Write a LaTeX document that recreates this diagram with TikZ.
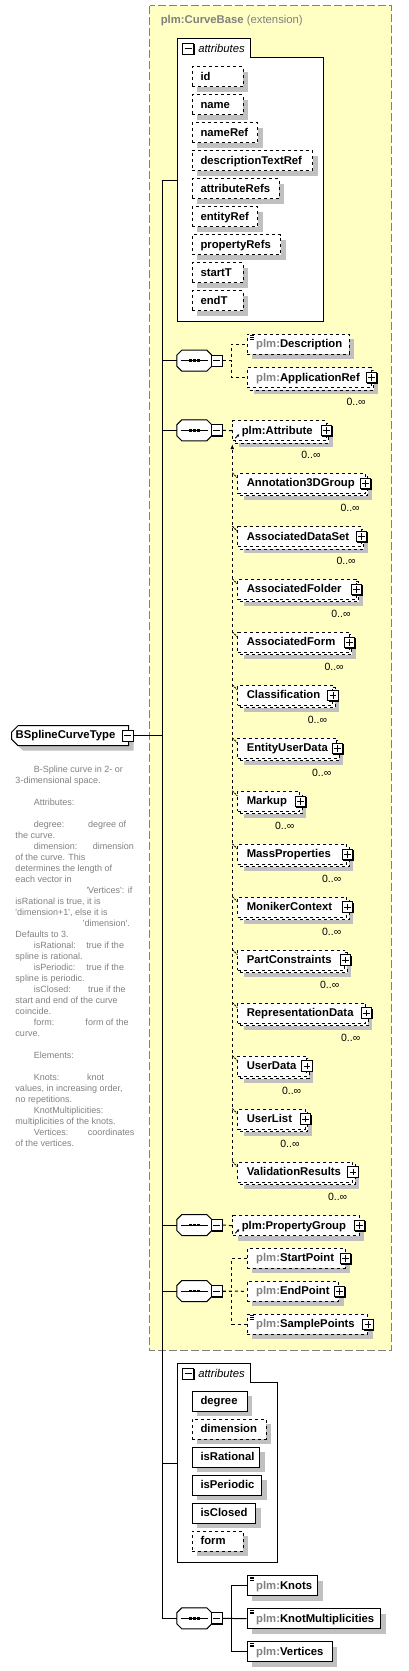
\documentclass[tikz,border=0pt]{standalone}
\usepackage{fontspec}
\setmainfont{Liberation Sans}
\usetikzlibrary{shapes.misc,shadows,arrows.meta,positioning}
\definecolor{extfill}{HTML}{FFFFC4}
\definecolor{shade}{HTML}{C0C0C0}
\definecolor{pfx}{HTML}{808080}
\newcommand{\pl}{\textcolor{pfx}{plm:}}
\newcommand{\q}{\textquotesingle}
\newcommand{\octpath}[1]{([xshift=5pt]#1.north west) -- ([xshift=-5pt]#1.north east) -- ([yshift=-5pt]#1.north east) -- ([yshift=5pt]#1.south east) -- ([xshift=-5pt]#1.south east) -- ([xshift=5pt]#1.south west) -- ([yshift=5pt]#1.south west) -- ([yshift=-5pt]#1.north west) -- cycle}
\begin{document}
\begin{tikzpicture}[x=1pt, y=-1pt, line width=1pt, >=stealth,
  lbl/.style={font=\fontsize{11.3}{13}\selectfont\bfseries},
  box/.style={draw, fill=white, anchor=west, minimum height=20pt, inner xsep=8.3pt,
    inner ysep=0pt, text height=9pt, text depth=2pt, align=left, text width=#1pt, lbl},
  shd/.style={drop shadow={shadow xshift=5pt, shadow yshift=-5pt, fill=shade, opacity=1}},
  attr/.style={box=#1, shd},
  opt/.style={box=#1, shd, dashed},
  elem/.style={box=#1, inner xsep=9pt, shd},
  many/.style={box=#1, inner xsep=9pt, dashed,
    drop shadow={shadow xshift=6.5pt, shadow yshift=-6.5pt, fill=shade, opacity=1},
    general shadow={shadow xshift=2.5pt, shadow yshift=-2.5pt, draw=black, fill=white, dashed},
    label={[occ]south east:0..∞}, label={[plus]east:{}}},
  pls/.style={label={[plus]east:{}}},
  occ/.style={anchor=base east, xshift=-5.5pt, yshift=-17.5pt, inner sep=0pt,
    font=\fontsize{10.5}{12}\selectfont},
  sym/.style={anchor=center, draw, solid, fill=white, inner sep=0pt,
    drop shadow={shadow xshift=1pt, shadow yshift=-1pt, fill=black, opacity=1}},
  plus/.style={sym, minimum size=10.5pt, path picture={
    \draw ([xshift=2pt]path picture bounding box.west) -- ([xshift=-2pt]path picture bounding box.east);
    \draw ([yshift=-2pt]path picture bounding box.north) -- ([yshift=2pt]path picture bounding box.south);}},
  minus/.style={sym, minimum size=11pt, path picture={
    \draw ([xshift=2pt]path picture bounding box.west) -- ([xshift=-2pt]path picture bounding box.east);}},
  seq/.style={rectangle, minimum width=34pt, minimum height=20pt, inner sep=0pt},
  top/.style={chamfered rectangle, chamfered rectangle corners={north west,south west},
    chamfered rectangle xsep=3pt, draw, fill=white, minimum width=117pt, minimum height=20pt,
    inner sep=0pt, anchor=west, lbl, shd},
  ref/.style={path picture={\draw[solid, -{Latex[length=2.5pt, width=3pt]}]
    ([shift={(2.5pt,2.5pt)}]path picture bounding box.south west) -- ++(4pt,4pt);}},
  simple/.style={path picture={\foreach \k in {1.5,3.2,4.9}
    \draw[solid, line width=.7pt] ([shift={(2.5pt,-\k pt)}]path picture bounding box.north west) -- ++(4.5pt,0pt);}},
  tab/.style={inner sep=0pt, anchor=west, font=\fontsize{11.3}{13}\selectfont\itshape},
  doc/.style={anchor=north west, inner sep=0pt, align=left, text=pfx, font=\fontsize{9}{11}\selectfont}
]
\useasboundingbox (0,0) rectangle (409,1671);
% extension of plm:CurveBase
\draw[draw=pfx, fill=extfill, dash pattern=on 8pt off 3pt] (149.5,5.5) rectangle (391.5,1350);
\node[anchor=base west, text=pfx, lbl] (ext) at (157,23) {plm:CurveBase \mdseries(extension)};
\draw[fill=white] (177.3,321.7) -- (177.3,38.3) -- (250,38.3) -- (250,57.3) -- (323.3,57.3) -- (323.3,321.7) -- cycle;
\node[minus] (a1m) at (188,48.7) {};
\node[tab, right=3.8pt of a1m] (a1t) {attributes};
\node[opt=34.4] (id) at (191.7,76.5) {id};
\node[opt=34.4] (nm) at (191.7,104.5) {name};
\node[opt=48.7] (nmr) at (191.7,132.5) {nameRef};
\node[opt=104] (dtr) at (191.7,160.5) {descriptionTextRef};
\node[opt=70.4] (atr) at (191.7,188.5) {attributeRefs};
\node[opt=48.7] (enr) at (191.7,216.5) {entityRef};
\node[opt=71.7] (prr) at (191.7,244.5) {propertyRefs};
\node[opt=34.4] (stt) at (191.7,272.5) {startT};
\node[opt=34.4] (ent) at (191.7,300.5) {endT};

% sequence compositors
\node[seq] (s1) at (194.3,360.7) {};
\node[seq] (s2) at (194.3,430.3) {};
\node[seq] (s3) at (194.3,1225) {};
\node[seq] (s4) at (194.3,1291) {};
\node[seq] (s5) at (194.3,1618.3) {};
\foreach \s in {s1,s2,s3,s4,s5} {
  \fill[shade, shift={(5pt,-5pt)}] \octpath{\s};
  \draw[fill=white] \octpath{\s};
  \draw ([xshift=4pt]\s.west) -- ([xshift=-4pt]\s.east);
  \foreach \d in {-4,0,4}
    \fill ([xshift=\d pt]\s.center) +(-1.4pt,-1.4pt) rectangle +(1.4pt,1.4pt);
}
\node[minus] (s1m) at (216.8,360.7) {};
\node[minus] (s2m) at (216.8,430.3) {};
\node[minus] (s3m) at (216.8,1225) {};
\node[minus] (s4m) at (216.8,1291) {};
\node[minus] (s5m) at (216.8,1618.3) {};

\node[elem=84, dashed, simple] (desc) at (246.7,344.3) {\pl Description};
\node[many=106] (appr) at (246.7,377.7) {\pl ApplicationRef};

\node[many=75.2, ref] (pa) at (232.3,430.7) {plm:Attribute};
% substitution group of plm:Attribute
\node[many=109.4] (ann) at (237.3,483.3) {Annotation3DGroup};
\node[many=105.4] (ads) at (237.3,536.7) {AssociatedDataSet};
\node[many=100.2] (afo) at (237.3,589.3) {AssociatedFolder};
\node[many=93.4] (afm) at (237.3,642.3) {AssociatedForm};
\node[many=76.7] (cls) at (237.3,695.3) {Classification};
\node[many=81] (eud) at (237.3,748.3) {EntityUserData};
\node[many=44] (mku) at (237.3,801.3) {Markup};
\node[many=91] (mps) at (237.3,854.3) {MassProperties};
\node[many=91] (mon) at (237.3,907) {MonikerContext};
\node[many=89] (pcs) at (237.3,960) {PartConstraints};
\node[many=110] (rep) at (237.3,1013) {RepresentationData};
\node[many=50.9] (udt) at (237.3,1066) {UserData};
\node[many=49.2] (uls) at (237.3,1119) {UserList};
\node[many=96.9] (val) at (237.3,1172) {ValidationResults};

\node[elem=108.4, dashed, ref, pls] (pg) at (232.3,1225.7) {plm:PropertyGroup};

\node[elem=79.8, dashed, pls] (spt) at (246.7,1258.3) {\pl StartPoint};
\node[elem=73.6, dashed, pls] (ept) at (246.7,1291.3) {\pl EndPoint};
\node[elem=102.3, dashed, pls, simple] (smp) at (246.7,1324.3) {\pl SamplePoints};

% own attributes
\draw[fill=white] (177.3,1562.3) -- (177.3,1363.3) -- (250,1363.3) -- (250,1382.3) -- (277.3,1382.3) -- (277.3,1562.3) -- cycle;
\node[minus] (a2m) at (188,1373.7) {};
\node[tab, right=3.8pt of a2m] (a2t) {attributes};
\node[attr=38.4] (deg) at (191.7,1401.3) {degree};
\node[opt=57.4] (dim) at (191.7,1429.3) {dimension};
\node[attr=51] (rat) at (191.7,1457.3) {isRational};
\node[attr=53] (per) at (191.7,1485.3) {isPeriodic};
\node[attr=47] (clo) at (191.7,1513.3) {isClosed};
\node[opt=34.4] (frm) at (191.7,1541.3) {form};

\node[elem=52.6, simple] (knt) at (246.7,1585.5) {\pl Knots};
\node[elem=115.6, simple] (kmu) at (246.7,1618.7) {\pl KnotMultiplicities};
\node[elem=67, simple] (vtx) at (246.7,1651.7) {\pl Vertices};

% the type itself
\node[top] (main) at (11,735.7) {BSplineCurveType\hspace*{9pt}};
\node[minus] (mainM) at (127.5,735.7) {};
\node[doc] (doc) at (15,765) {\hspace*{18.3pt}B-Spline curve in 2- or\\
3-dimensional space.\\[11pt]
\hspace*{18.3pt}Attributes:\\[11pt]
\hspace*{18.3pt}\makebox[54.4pt][l]{degree:}degree of\\
the curve.\\
\hspace*{18.3pt}\makebox[59pt][l]{dimension:}dimension\\
of the curve. This\\
determines the length of\\
each vector in\\
\hspace*{71pt}\q Vertices\q: if\\
isRational is true, it is\\
\q dimension+1\q, else it is\\
\hspace*{67.3pt}\q dimension\q.\\
Defaults to 3.\\
\hspace*{18.3pt}\makebox[52.7pt][l]{isRational:}true if the\\
spline is rational.\\
\hspace*{18.3pt}\makebox[52.7pt][l]{isPeriodic:}true if the\\
spline is periodic.\\
\hspace*{18.3pt}\makebox[54.4pt][l]{isClosed:}true if the\\
start and end of the curve\\
coincide.\\
\hspace*{18.3pt}\makebox[51.7pt][l]{form:}form of the\\
curve.\\[11pt]
\hspace*{18.3pt}Elements:\\[11pt]
\hspace*{18.3pt}\makebox[53.4pt][l]{Knots:}knot\\
values, in increasing order,\\
no repetitions.\\
\hspace*{18.3pt}KnotMultiplicities:\\
multiplicities of the knots.\\
\hspace*{18.3pt}\makebox[54pt][l]{Vertices:}coordinates\\
of the vertices.};

% connectors
\coordinate (tr) at (162.3,180.3);
\coordinate (trEnd) at (162.3,1618.3);
\coordinate (att1) at (177.3,180.3);
\coordinate (att2) at (177.3,1463.3);
\coordinate (sgEnd) at (232.3,1167);
\draw (mainM.east) -- (mainM.east -| tr);
\draw (tr) -- (trEnd);
\draw (tr) -- (att1);
\draw (att2 -| tr) -- (att2);
\draw (s1.west -| tr) -- (s1.west);
\draw (s2.west -| tr) -- (s2.west);
\draw (s3.west -| tr) -- (s3.west);
\draw (s4.west -| tr) -- (s4.west);
\draw (trEnd) -- (s5.west);
\draw[dashed] (s1m.east) -- ++(8.7,0) |- (desc.west);
\draw[dashed] (s1m.east) -- ++(8.7,0) |- (appr.west);
\draw[dashed] (s2m.east) -- (pa.west);
\draw[dashed, -{Latex[length=5pt, width=4pt]}] (sgEnd) -- ([yshift=-3pt]pa.south west);
\foreach \n in {ann,ads,afo,afm,cls,eud,mku,mps,mon,pcs,rep,udt,uls,val}
  \draw[dash pattern=on 2pt off 1pt] (sgEnd |- \n.north west) -- ([yshift=-5pt]\n.north west);
\draw[dashed] (s3m.east) -- (pg.west);
\draw[dashed] (s4m.east) -- ++(8.7,0) |- (spt.west);
\draw[dashed] (s4m.east) -- (ept.west);
\draw[dashed] (s4m.east) -- ++(8.7,0) |- (smp.west);
\draw (s5m.east) -- ++(8.7,0) |- (knt.west);
\draw (s5m.east) -- (kmu.west);
\draw (s5m.east) -- ++(8.7,0) |- (vtx.west);
\end{tikzpicture}
\end{document}
